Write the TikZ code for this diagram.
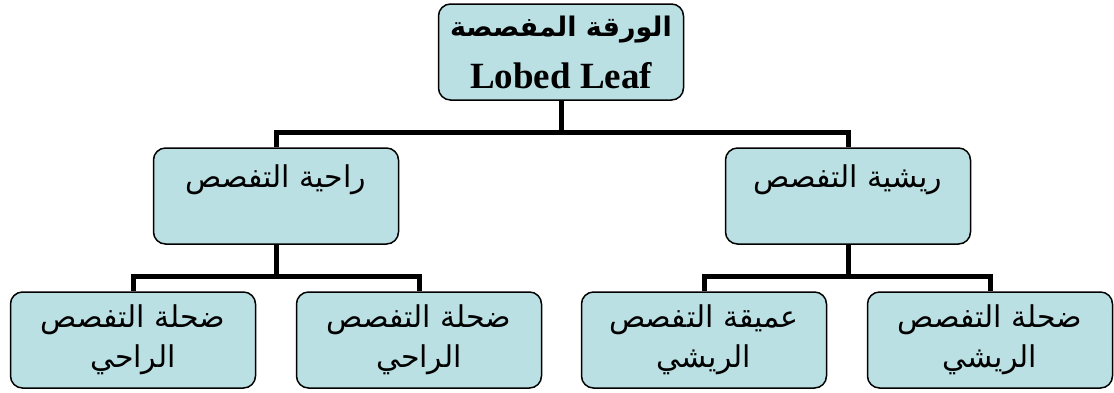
\documentclass[tikz,border=0pt]{standalone}
\usepackage{fontspec}
\setmainfont{Liberation Serif}
\newfontfamily\arabicfont[Script=Arabic]{DejaVu Sans}
\TeXXeTstate=1
\definecolor{leaffill}{RGB}{187,224,227}
\tikzset{
  leaf/.style={rectangle, rounded corners=12pt, draw, line width=1.5pt, fill=leaffill,
    minimum width=245pt, minimum height=96pt, align=center, inner sep=0pt,
    font=\arabicfont\fontsize{30}{40}\selectfont},
  kind/.style={leaf, font=\arabicfont\fontsize{30}{30}\selectfont},
  link/.style={line width=5pt},
}
\begin{document}
\begin{tikzpicture}[x=1pt, y=-1pt]
      \useasboundingbox (0,0) rectangle (1114,392);
      \node[leaf, font=\bfseries\fontsize{37}{52}\selectfont] (lobed) at (561,52) [] {{\arabicfont\fontsize{27}{52}\selectfont\beginR الورقة المفصصة\endR}\\Lobed Leaf};
      \node[kind] (palm) at (276,196) [] {\beginR راحية التفصص\endR\\\strut};
      \node[kind] (pinn) at (848,196) [] {\beginR ريشية التفصص\endR\\\strut};
      \node[leaf] (palmA) at (133,340) [] {\beginR ضحلة التفصص\endR\\\beginR الراحي\endR};
      \node[leaf] (palmB) at (419,340) [] {\beginR ضحلة التفصص\endR\\\beginR الراحي\endR};
      \node[leaf] (pinnA) at (704,340) [] {\beginR عميقة التفصص\endR\\\beginR الريشي\endR};
      \node[leaf] (pinnB) at (990,340) [] {\beginR ضحلة التفصص\endR\\\beginR الريشي\endR};

      \foreach \source/\dest in {lobed/palm, lobed/pinn, palm/palmA, palm/palmB, pinn/pinnA, pinn/pinnB}
        \draw[link] (\source.south) -- ++(0,32) -| (\dest.north);
    \end{tikzpicture}
\end{document}
